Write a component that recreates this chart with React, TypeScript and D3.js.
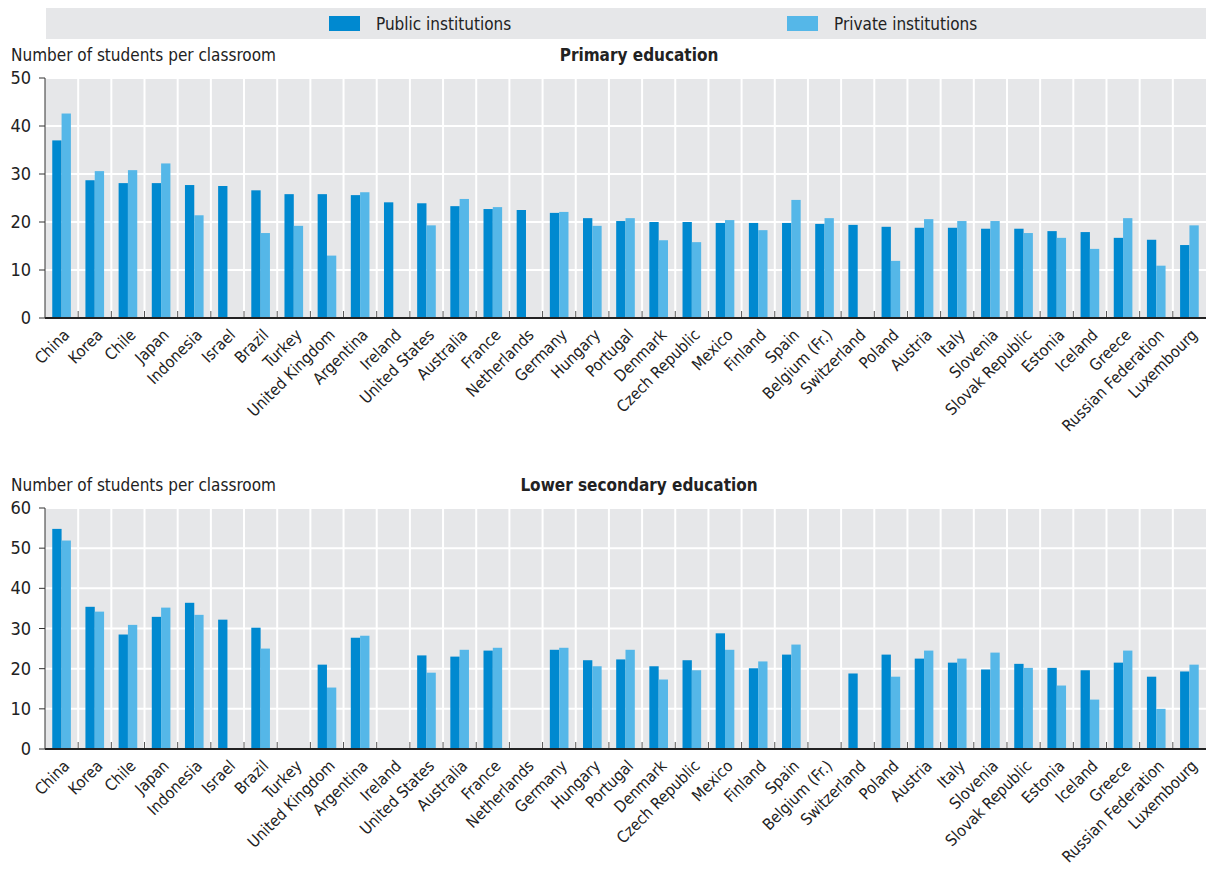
import React, { useEffect, useRef } from "react";
import * as d3 from "d3";

const countries = [
  "China", "Korea", "Chile", "Japan", "Indonesia", "Israel", "Brazil", "Turkey",
  "United Kingdom", "Argentina", "Ireland", "United States", "Australia", "France",
  "Netherlands", "Germany", "Hungary", "Portugal", "Denmark", "Czech Republic",
  "Mexico", "Finland", "Spain", "Belgium (Fr.)", "Switzerland", "Poland", "Austria",
  "Italy", "Slovenia", "Slovak Republic", "Estonia", "Iceland", "Greece",
  "Russian Federation", "Luxembourg",
];

// null = no data
const primaryPublic = [
  37.0, 28.7, 28.1, 28.1, 27.7, 27.5, 26.6, 25.8, 25.8, 25.6, 24.1, 23.9, 23.3, 22.7,
  22.5, 21.9, 20.8, 20.2, 20.0, 20.0, 19.8, 19.8, 19.8, 19.6, 19.4, 19.0, 18.8, 18.8,
  18.6, 18.6, 18.1, 17.9, 16.7, 16.3, 15.2,
];
const primaryPrivate = [
  42.6, 30.6, 30.8, 32.2, 21.4, null, 17.7, 19.2, 13.0, 26.2, null, 19.3, 24.8, 23.1,
  null, 22.1, 19.2, 20.8, 16.2, 15.8, 20.4, 18.3, 24.6, 20.8, null, 11.9, 20.6, 20.2,
  20.2, 17.7, 16.7, 14.4, 20.8, 10.9, 19.3,
];
const lowerPublic = [
  54.8, 35.4, 28.5, 32.9, 36.4, 32.2, 30.2, null, 21.0, 27.7, null, 23.3, 23.0, 24.5,
  null, 24.7, 22.1, 22.3, 20.6, 22.1, 28.8, 20.1, 23.5, null, 18.8, 23.5, 22.5, 21.5,
  19.8, 21.2, 20.2, 19.6, 21.5, 18.0, 19.3,
];
const lowerPrivate = [
  51.9, 34.2, 30.9, 35.2, 33.4, null, 25.0, null, 15.3, 28.2, null, 19.0, 24.7, 25.2,
  null, 25.2, 20.6, 24.7, 17.3, 19.6, 24.7, 21.8, 26.0, null, null, 18.0, 24.5, 22.5,
  24.0, 20.2, 15.8, 12.3, 24.5, 10.0, 21.0,
];

const seriesNames = ["Public institutions", "Private institutions"];
const colors = ["#0089d0", "#55b7e8"];

const primaryTicks = [0, 10, 20, 30, 40, 50];
const lowerTicks = [0, 10, 20, 30, 40, 50, 60];

const FONT = "'Liberation Sans Narrow', 'DejaVu Sans Condensed', 'Roboto', sans-serif";

const App: React.FC = () => {
  const svgRef = useRef<SVGSVGElement>(null);

  useEffect(() => {
    if (!svgRef.current) return;
    const svg = d3.select(svgRef.current);
    svg.selectAll("*").remove();

    const left = 45;
    const right = 1206;

    // Legend
    const legend = svg.append("g");
    legend
      .append("rect")
      .attr("x", 46)
      .attr("y", 8)
      .attr("width", right - 46)
      .attr("height", 31)
      .attr("fill", "#e6e7e9");
    const legendX = [329, 787];
    seriesNames.forEach((name, i) => {
      legend
        .append("rect")
        .attr("x", legendX[i])
        .attr("y", 16)
        .attr("width", 31)
        .attr("height", 15)
        .attr("fill", colors[i]);
      legend
        .append("text")
        .attr("x", legendX[i] + 47)
        .attr("y", 30)
        .attr("font-family", FONT)
        .attr("font-size", 17)
        .attr("fill", "#222")
        .text(name);
    });

    const drawPanel = (
      top: number,
      bottom: number,
      title: string,
      ticks: number[],
      pub: (number | null)[],
      priv: (number | null)[]
    ) => {
      const g = svg.append("g");
      const x = d3.scaleBand<string>().domain(countries).range([left, right]).padding(0);
      const inner = d3
        .scaleBand<number>()
        .domain([0, 1])
        .range([0, x.bandwidth()])
        .paddingInner(0)
        .paddingOuter(0.78);
      const y = d3
        .scaleLinear()
        .domain([0, ticks[ticks.length - 1]])
        .range([bottom, top]);

      // header texts
      g.append("text")
        .attr("x", 11)
        .attr("y", top - 17)
        .attr("font-family", FONT)
        .attr("font-size", 17)
        .attr("fill", "#222")
        .text("Number of students per classroom");
      g.append("text")
        .attr("x", 639)
        .attr("y", top - 17)
        .attr("text-anchor", "middle")
        .attr("font-family", FONT)
        .attr("font-size", 17)
        .attr("font-weight", "bold")
        .attr("fill", "#222")
        .text(title);

      // background
      g.append("rect")
        .attr("x", left)
        .attr("y", top)
        .attr("width", right - left)
        .attr("height", bottom - top)
        .attr("fill", "#e6e7e9");

      // grid
      g.selectAll(".hgrid")
        .data(ticks.slice(1))
        .enter()
        .append("line")
        .attr("x1", left)
        .attr("x2", right)
        .attr("y1", (d) => y(d))
        .attr("y2", (d) => y(d))
        .attr("stroke", "#fff")
        .attr("stroke-width", 2);
      g.selectAll(".vgrid")
        .data(countries.slice(1))
        .enter()
        .append("line")
        .attr("x1", (d) => x(d) || 0)
        .attr("x2", (d) => x(d) || 0)
        .attr("y1", top)
        .attr("y2", bottom)
        .attr("stroke", "#fff")
        .attr("stroke-width", 2);

      // bars
      [pub, priv].forEach((vals, si) => {
        g.selectAll(`.bar${si}`)
          .data(countries.map((c, i) => ({ c, v: vals[i] })).filter((d) => d.v !== null))
          .enter()
          .append("rect")
          .attr("x", (d) => (x(d.c) || 0) + (inner(si) || 0))
          .attr("y", (d) => y(d.v as number))
          .attr("width", inner.bandwidth())
          .attr("height", (d) => bottom - y(d.v as number))
          .attr("fill", colors[si]);
      });

      // x-axis ticks (upward at band boundaries)
      g.selectAll(".xtick")
        .data(countries.slice(1))
        .enter()
        .append("line")
        .attr("x1", (d) => x(d) || 0)
        .attr("x2", (d) => x(d) || 0)
        .attr("y1", bottom - 7)
        .attr("y2", bottom)
        .attr("stroke", "#555")
        .attr("stroke-width", 1);

      // axes lines
      g.append("line")
        .attr("x1", left)
        .attr("x2", right)
        .attr("y1", bottom)
        .attr("y2", bottom)
        .attr("stroke", "#222")
        .attr("stroke-width", 2);
      g.append("line")
        .attr("x1", left)
        .attr("x2", left)
        .attr("y1", top)
        .attr("y2", bottom)
        .attr("stroke", "#333")
        .attr("stroke-width", 1);

      // y ticks
      g.selectAll(".ytick")
        .data(ticks)
        .enter()
        .append("line")
        .attr("x1", left - 6)
        .attr("x2", left)
        .attr("y1", (d) => y(d))
        .attr("y2", (d) => y(d))
        .attr("stroke", "#333");
      g.selectAll(".ylabel")
        .data(ticks)
        .enter()
        .append("text")
        .attr("x", 31)
        .attr("y", (d) => y(d) + 6)
        .attr("text-anchor", "end")
        .attr("font-family", FONT)
        .attr("font-size", 18)
        .attr("fill", "#222")
        .text((d) => d);

      // x labels
      g.selectAll(".xlabel")
        .data(countries)
        .enter()
        .append("text")
        .attr(
          "transform",
          (d) => `translate(${(x(d) || 0) + x.bandwidth() / 2 + 1},${bottom + 10}) rotate(-45)`
        )
        .attr("text-anchor", "end")
        .attr("dy", "0.7em")
        .attr("font-family", FONT)
        .attr("font-size", 16)
        .attr("fill", "#222")
        .text((d) => d);
    };

    drawPanel(78, 318, "Primary education", primaryTicks, primaryPublic, primaryPrivate);
    drawPanel(508, 749, "Lower secondary education", lowerTicks, lowerPublic, lowerPrivate);
  }, []);

  return (
    <svg
      ref={svgRef}
      width={1206}
      height={869}
      style={{ position: "absolute", left: 0, top: 0, background: "#fff" }}
    />
  );
};

export default App;
